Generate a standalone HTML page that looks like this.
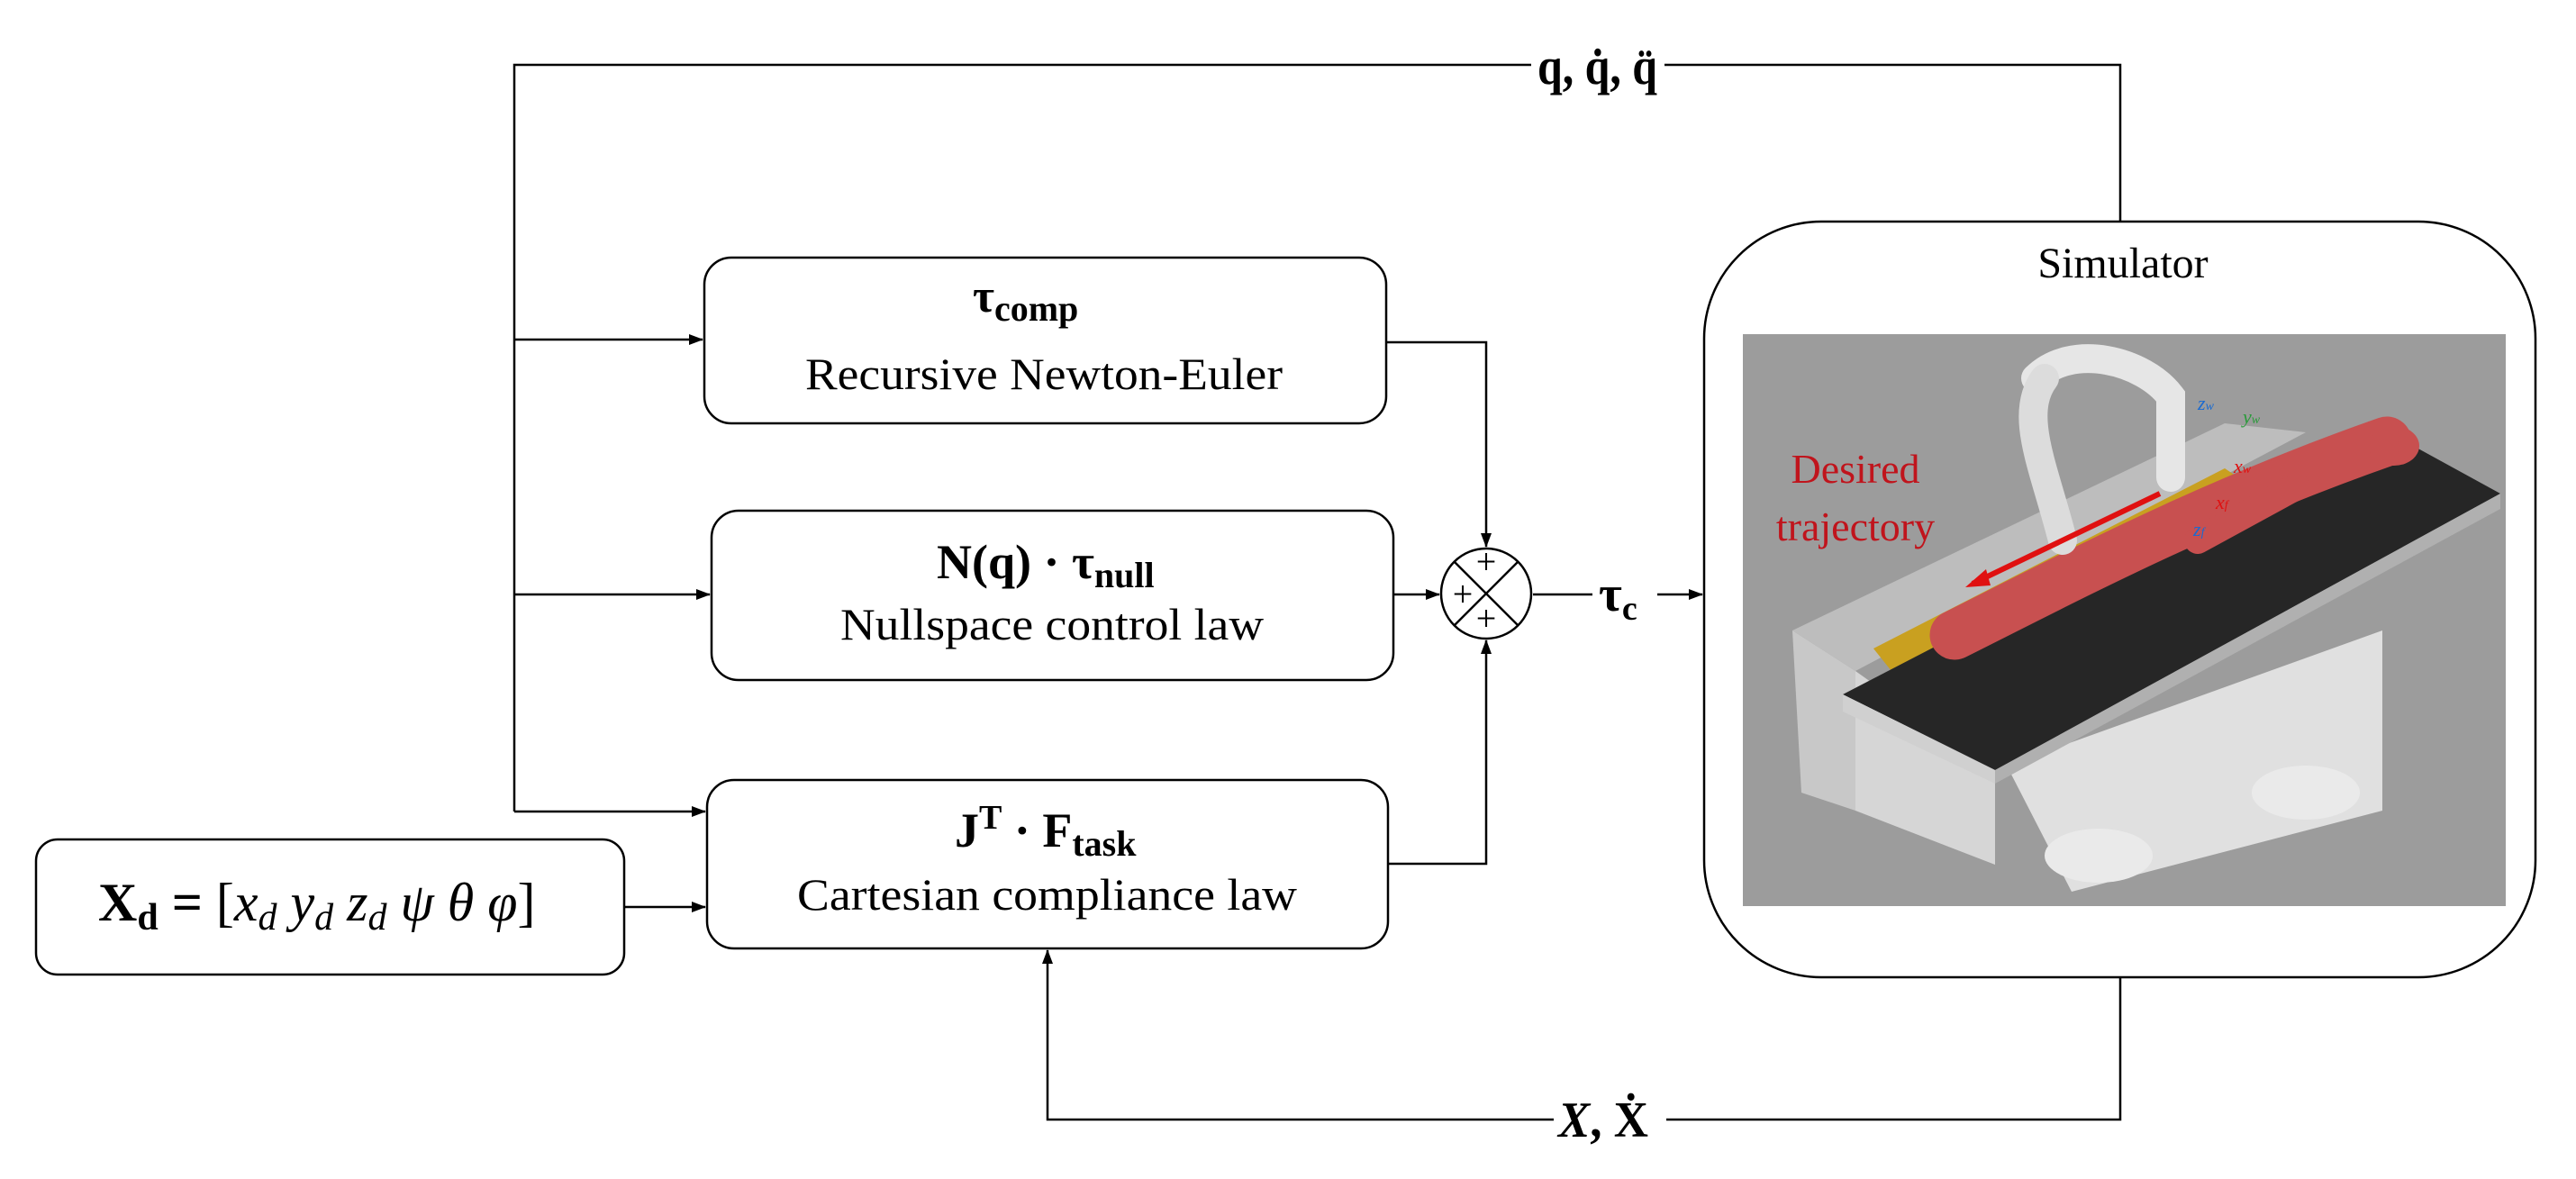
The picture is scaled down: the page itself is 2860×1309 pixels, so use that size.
<!DOCTYPE html>
<html><head><meta charset="utf-8"><style>html,body{margin:0;padding:0;background:#fff}svg{display:block}</style></head>
<body>
<svg width="2860" height="1309" viewBox="0 0 2860 1309" xmlns="http://www.w3.org/2000/svg" font-family="Liberation Serif, serif">
<defs>
<marker id="b" markerWidth="16" markerHeight="12" refX="15" refY="6" orient="auto" markerUnits="userSpaceOnUse"><path d="M0,0 L16,6 L0,12 z" fill="#000"/></marker>
</defs>
<g stroke="#000" stroke-width="2.5" fill="none">
<polyline points="2354,246 2354,72 1848,72"/>
<polyline points="1700,72 571,72 571,901"/>
<line x1="571" y1="377" x2="780" y2="377" marker-end="url(#b)"/>
<line x1="571" y1="660" x2="788" y2="660" marker-end="url(#b)"/>
<line x1="571" y1="901" x2="783" y2="901" marker-end="url(#b)"/>
<line x1="693" y1="1007" x2="783" y2="1007" marker-end="url(#b)"/>
<rect x="782" y="286" width="757" height="184" rx="30"/>
<rect x="790" y="567" width="757" height="188" rx="30"/>
<rect x="785" y="866" width="756" height="187" rx="30"/>
<rect x="40" y="932" width="653" height="150" rx="24"/>
<polyline points="1539,380 1650,380 1650,607" marker-end="url(#b)"/>
<polyline points="1541,959 1650,959 1650,711" marker-end="url(#b)"/>
<line x1="1547" y1="660" x2="1598" y2="660" marker-end="url(#b)"/>
<circle cx="1650" cy="659" r="50"/>
<line x1="1615" y1="624" x2="1685" y2="694"/>
<line x1="1685" y1="624" x2="1615" y2="694"/>
<line x1="1702" y1="660" x2="1768" y2="660"/>
<line x1="1840" y1="660" x2="1890" y2="660" marker-end="url(#b)"/>
<rect x="1892" y="246" width="923" height="839" rx="130"/>
<polyline points="2354,1085 2354,1243 1850,1243"/>
<polyline points="1725,1243 1163,1243 1163,1055" marker-end="url(#b)"/>
</g>
<g font-size="40" fill="#000" text-anchor="middle">
<text x="1650" y="637">+</text><text x="1624" y="673">+</text><text x="1650" y="700">+</text>
</g>
<g fill="#000">
<text x="1707" y="93" font-size="58" font-weight="bold" textLength="133" lengthAdjust="spacingAndGlyphs">q, q̇, q̈</text>
<text x="1775" y="678" font-size="56" font-weight="bold">τ<tspan font-size="38" dy="10">c</tspan></text>
<text x="1730" y="1262" font-size="56" font-weight="bold" textLength="100" lengthAdjust="spacingAndGlyphs"><tspan font-style="italic">X</tspan>, Ẋ</text>
<text x="1080" y="346" font-size="52" font-weight="bold">τ<tspan font-size="40" dy="10">comp</tspan></text>
<text x="894" y="432" font-size="50" textLength="530" lengthAdjust="spacingAndGlyphs">Recursive Newton-Euler</text>
<text x="1040" y="642" font-size="54" font-weight="bold">N(q) · τ<tspan font-size="40" dy="10">null</tspan></text>
<text x="933" y="710" font-size="50" textLength="470" lengthAdjust="spacingAndGlyphs">Nullspace control law</text>
<text x="1060" y="940" font-size="54" font-weight="bold">J<tspan font-size="38" dy="-20">T</tspan><tspan dy="20"> · F</tspan><tspan font-size="40" dy="10">task</tspan></text>
<text x="885" y="1010" font-size="50" textLength="555" lengthAdjust="spacingAndGlyphs">Cartesian compliance law</text>
<text x="109" y="1022" font-size="60"><tspan font-weight="bold">X</tspan><tspan font-weight="bold" font-size="42" dy="10">d</tspan><tspan dy="-10" font-weight="bold"> = </tspan>[<tspan font-style="italic">x</tspan><tspan font-style="italic" font-size="42" dy="10">d</tspan><tspan dy="-10" font-style="italic"> y</tspan><tspan font-style="italic" font-size="42" dy="10">d</tspan><tspan dy="-10" font-style="italic"> z</tspan><tspan font-style="italic" font-size="42" dy="10">d</tspan><tspan dy="-10" font-style="italic"> ψ θ φ</tspan>]</text>
<text x="2357" y="308" font-size="48" text-anchor="middle">Simulator</text>
</g>
<rect x="1935" y="371" width="847" height="635" fill="#9c9c9c"/>
<polygon points="1990,700 2470,470 2560,480 2060,745" fill="#bdbdbd"/>
<polygon points="1990,700 2060,745 2060,900 2000,880" fill="#c8c8c8"/>
<polygon points="2060,745 2215,855 2215,960 2060,900" fill="#d6d6d6"/>
<polygon points="2228,850 2645,700 2645,900 2300,990" fill="#e0e0e0"/>
<ellipse cx="2330" cy="950" rx="60" ry="30" fill="#eaeaea"/>
<ellipse cx="2560" cy="880" rx="60" ry="30" fill="#eaeaea"/>
<polygon points="2080,720 2470,520 2500,540 2100,745" fill="#c9a020"/>
<polygon points="2046,771 2630,468 2776,548 2215,855" fill="#262626"/>
<polygon points="2046,771 2215,855 2215,870 2046,790" fill="#d0d0d0"/>
<polygon points="2215,855 2776,548 2776,565 2215,870" fill="#b0b0b0"/>
<path d="M2170,705 C2300,640 2450,560 2650,490" stroke="#c85050" stroke-width="55" fill="none" stroke-linecap="round"/>
<path d="M2440,600 L2550,540" stroke="#c85050" stroke-width="30" fill="none" stroke-linecap="round"/>
<ellipse cx="2658" cy="495" rx="28" ry="22" fill="#c85050"/>
<path d="M2260,420 C2300,380 2380,400 2410,440 L2410,530" stroke="#e6e6e6" stroke-width="32" fill="none" stroke-linecap="round"/>
<path d="M2270,420 C2240,460 2270,520 2290,600" stroke="#dcdcdc" stroke-width="32" fill="none" stroke-linecap="round"/>
<line x1="2398" y1="548" x2="2190" y2="648" stroke="#e01010" stroke-width="6"/>
<polygon points="2182,652 2205,632 2210,650" fill="#e01010"/>
<text x="2060" y="536" font-size="46" fill="#c0141c" text-anchor="middle">Desired</text>
<text x="2060" y="600" font-size="46" fill="#c0141c" text-anchor="middle">trajectory</text>
<text x="2480" y="525" font-size="22" fill="#e01010" font-style="italic">x<tspan font-size="14">w</tspan></text>
<text x="2440" y="455" font-size="22" fill="#1a6ad0" font-style="italic">z<tspan font-size="14">w</tspan></text>
<text x="2490" y="470" font-size="22" fill="#2a9a3a" font-style="italic">y<tspan font-size="14">w</tspan></text>
<text x="2460" y="565" font-size="22" fill="#e01010" font-style="italic">x<tspan font-size="14">f</tspan></text>
<text x="2435" y="595" font-size="22" fill="#1a6ad0" font-style="italic">z<tspan font-size="14">f</tspan></text>
</svg>
</body></html>
